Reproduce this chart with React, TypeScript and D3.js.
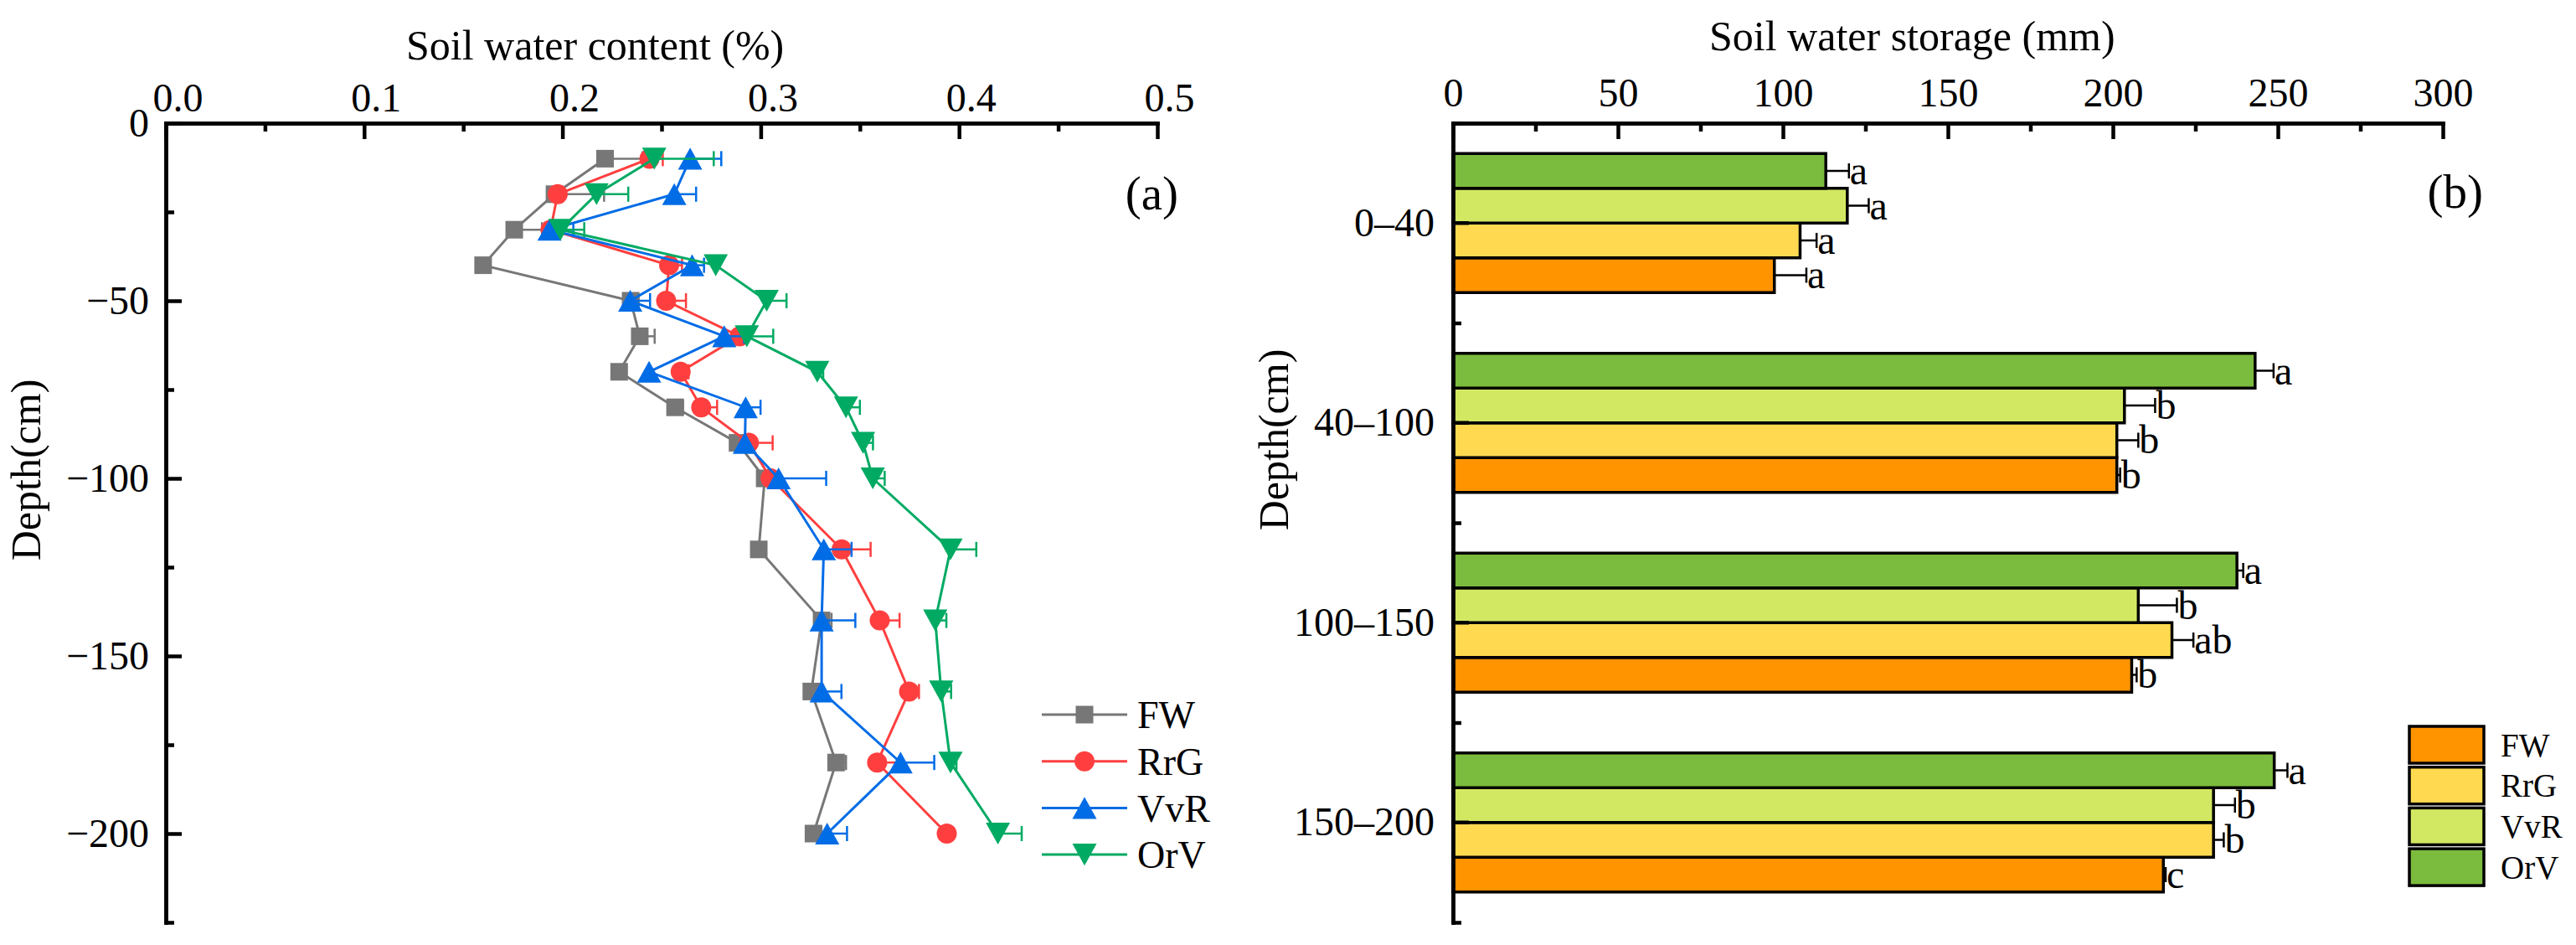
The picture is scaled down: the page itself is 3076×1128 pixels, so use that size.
import React, { useEffect, useRef } from 'react';
import * as d3 from 'd3';

// ---- panel (a): soil water content profile ----
const depths = [-10, -20, -30, -40, -50, -60, -70, -80, -90, -100, -120, -140, -160, -180, -200];
const seriesNames = ['FW', 'RrG', 'VvR', 'OrV'];

const fwSwc = [0.2215, 0.196, 0.1757, 0.16, 0.2344, 0.239, 0.2286, 0.2568, 0.2883, 0.302, 0.299, 0.3307, 0.3255, 0.338, 0.3266];
const fwSwcErr = [0.019, 0.025, 0.014, 0, 0.004, 0.0075, 0, 0.004, 0.002, 0.003, 0, 0.005, 0.006, 0.005, 0.004];
const rrgSwc = [0.2439, 0.1976, 0.194, 0.2538, 0.2523, 0.2893, 0.2596, 0.27, 0.294, 0.305, 0.3408, 0.36, 0.3748, 0.3587, 0.3938];
const rrgSwcErr = [0.0067, 0, 0.004, 0.0065, 0.01, 0.004, 0.004, 0.008, 0.012, 0.004, 0.0146, 0.01, 0.005, 0.012, 0];
const vvrSwc = [0.2644, 0.2564, 0.1935, 0.2654, 0.2342, 0.2816, 0.2437, 0.2924, 0.292, 0.309, 0.3318, 0.3307, 0.3307, 0.3705, 0.3335];
const vvrSwcErr = [0.0157, 0.011, 0.012, 0.006, 0.01, 0.01, 0, 0.0075, 0, 0.024, 0.014, 0.017, 0.01, 0.017, 0.01];
const orvSwc = [0.2463, 0.2172, 0.199, 0.2773, 0.303, 0.293, 0.3285, 0.343, 0.3516, 0.3565, 0.3957, 0.388, 0.391, 0.3957, 0.4196];
const orvSwcErr = [0.03, 0.016, 0.012, 0, 0.01, 0.0133, 0.003, 0.007, 0.005, 0.006, 0.013, 0.0056, 0.005, 0.003, 0.012];

const swcTicks = [0, 0.1, 0.2, 0.3, 0.4, 0.5];
const depthTicks = [0, -50, -100, -150, -200];

// ---- panel (b): soil water storage by layer ----
const layers = ['0–40', '40–100', '100–150', '150–200'];
const fwSws = [97.4, 201.2, 205.7, 215.3];
const fwSwsErr = [9.7, 1, 1.5, 0.7];
const rrgSws = [105.2, 201.2, 217.9, 230.5];
const rrgSwsErr = [5, 6.5, 6.5, 3.1];
const vvrSws = [119.5, 203.5, 207.7, 230.5];
const vvrSwsErr = [6.5, 9.3, 11.7, 6.5];
const orvSws = [113, 243.1, 237.6, 248.9];
const orvSwsErr = [7, 5.6, 1.9, 4];
const fwLetters = ['a', 'b', 'b', 'c'];
const rrgLetters = ['a', 'b', 'ab', 'b'];
const vvrLetters = ['a', 'b', 'b', 'b'];
const orvLetters = ['a', 'a', 'a', 'a'];
const swsTicks = [0, 50, 100, 150, 200, 250, 300];

const lineColors = ['#777777', '#ff3f3f', '#006ce6', '#00aa63'];
const barColors = ['#ff9300', '#ffda50', '#d3e862', '#7bbb3d'];

const FONT = "'Liberation Serif', 'Times New Roman', 'DejaVu Serif', serif";

const triUp = {
  draw(ctx: any, size: number) {
    const w = Math.sqrt(size);
    const h = w * 0.9;
    ctx.moveTo(0, -h / 2);
    ctx.lineTo(w / 2, h / 2);
    ctx.lineTo(-w / 2, h / 2);
    ctx.closePath();
  },
};
const triDown = {
  draw(ctx: any, size: number) {
    const w = Math.sqrt(size);
    const h = w * 0.9;
    ctx.moveTo(0, h / 2);
    ctx.lineTo(w / 2, -h / 2);
    ctx.lineTo(-w / 2, -h / 2);
    ctx.closePath();
  },
};

function styleAxis(g: any, fontSize: number) {
  g.attr('font-family', FONT).attr('font-size', fontSize);
  g.select('.domain').attr('stroke', '#000').attr('stroke-width', 4.5).attr('stroke-linecap', 'square');
  g.selectAll('.tick line').attr('stroke', '#000').attr('stroke-width', 4.5);
  g.selectAll('.tick text').attr('fill', '#000').attr('font-family', FONT).attr('font-size', fontSize);
}

export default function App() {
  const svgRef = useRef<SVGSVGElement>(null);

  useEffect(() => {
    if (!svgRef.current) return;
    const svg = d3.select(svgRef.current);
    svg.selectAll('*').remove();

    const top = 147;
    const bottom = 1101;

    // ================= panel (a) =================
    const xA = d3.scaleLinear().domain([0, 0.5]).range([198, 1382]);
    const yA = d3.scaleLinear().domain([0, -225]).range([top, bottom]);

    const gA = svg.append('g');

    gA.append('g')
      .attr('transform', `translate(0,${top})`)
      .call(d3.axisTop(xA).tickValues(d3.range(0.05, 0.5, 0.1)).tickSize(-10).tickSizeOuter(0).tickFormat(() => ''))
      .call((g: any) => styleAxis(g, 48));
    gA.append('g')
      .attr('transform', `translate(0,${top})`)
      .call(d3.axisTop(xA).tickValues(swcTicks).tickSize(-19).tickSizeOuter(0).tickPadding(14).tickFormat(d3.format('.1f')))
      .call((g: any) => styleAxis(g, 48))
      .call((g: any) => g.selectAll('.tick text').attr('dx', 14));

    gA.append('g')
      .attr('transform', `translate(198,0)`)
      .call(d3.axisLeft(yA).tickValues([-25, -75, -125, -175, -225]).tickSize(-10).tickSizeOuter(0).tickFormat(() => ''))
      .call((g: any) => styleAxis(g, 48));
    gA.append('g')
      .attr('transform', `translate(198,0)`)
      .call(d3.axisLeft(yA).tickValues(depthTicks).tickSize(-19).tickSizeOuter(0).tickPadding(20).tickFormat(d3.format('d')))
      .call((g: any) => styleAxis(g, 48));

    const swcValues = [fwSwc, rrgSwc, vvrSwc, orvSwc];
    const swcErrs = [fwSwcErr, rrgSwcErr, vvrSwcErr, orvSwcErr];
    const symbols: any[] = [
      d3.symbol().type(d3.symbolSquare).size(441),
      d3.symbol().type(d3.symbolCircle).size(452),
      d3.symbol().type(triUp as any).size(841),
      d3.symbol().type(triDown as any).size(841),
    ];

    const line = d3.line<number>()
      .x((v) => xA(v))
      .y((_, i) => yA(depths[i]));

    seriesNames.forEach((name, s) => {
      const color = lineColors[s];
      const vals = swcValues[s];
      const errs = swcErrs[s];
      const gs = gA.append('g');
      gs.append('path').attr('d', line(vals)).attr('fill', 'none').attr('stroke', color).attr('stroke-width', 3);

      vals.forEach((v, i) => {
        const e = errs[i];
        if (!e) return;
        const y = yA(depths[i]);
        gs.append('line').attr('x1', xA(v)).attr('x2', xA(v + e)).attr('y1', y).attr('y2', y)
          .attr('stroke', color).attr('stroke-width', 2.5);
        gs.append('line').attr('x1', xA(v + e)).attr('x2', xA(v + e)).attr('y1', y - 9).attr('y2', y + 9)
          .attr('stroke', color).attr('stroke-width', 2.5);
      });

      gs.selectAll('.pt').data(vals).enter().append('path')
        .attr('transform', (v, i) => `translate(${xA(v)},${yA(depths[i])})`)
        .attr('d', symbols[s]())
        .attr('fill', color);
    });

    // legend (a)
    const legA = gA.append('g');
    seriesNames.forEach((name, s) => {
      const y = 853 + s * 55.7;
      legA.append('line').attr('x1', 1244).attr('x2', 1346).attr('y1', y).attr('y2', y)
        .attr('stroke', lineColors[s]).attr('stroke-width', 3);
      legA.append('path').attr('transform', `translate(1295,${y})`).attr('d', symbols[s]()).attr('fill', lineColors[s]);
      legA.append('text').attr('x', 1358).attr('y', y).attr('dy', '0.35em')
        .attr('font-family', FONT).attr('font-size', 46).text(name);
    });

    gA.append('text').attr('x', 485).attr('y', 71)
      .attr('font-family', FONT).attr('font-size', 50).text('Soil water content (%)');
    gA.append('text').attr('transform', 'translate(48,561) rotate(-90)').attr('text-anchor', 'middle')
      .attr('font-family', FONT).attr('font-size', 50).text('Depth(cm)');
    gA.append('text').attr('x', 1407).attr('y', 250).attr('text-anchor', 'end')
      .attr('font-family', FONT).attr('font-size', 57).text('(a)');

    // ================= panel (b) =================
    const xB = d3.scaleLinear().domain([0, 300]).range([1735, 2917]);
    const yB = d3.scaleBand().domain(layers).range([top, bottom]).paddingInner(0.304).paddingOuter(0.152);
    const barOrder = ['OrV', 'VvR', 'RrG', 'FW'];
    const yInner = d3.scaleBand().domain(barOrder).range([0, yB.bandwidth()]);
    const yEdges = d3.scaleLinear().domain([0, layers.length]).range([top, bottom]);

    const gB = svg.append('g');

    const swsValues = [fwSws, rrgSws, vvrSws, orvSws];
    const swsErrs = [fwSwsErr, rrgSwsErr, vvrSwsErr, orvSwsErr];
    const swsLetters = [fwLetters, rrgLetters, vvrLetters, orvLetters];

    seriesNames.forEach((name, s) => {
      const gs = gB.append('g');
      layers.forEach((layer, i) => {
        const v = swsValues[s][i];
        const e = swsErrs[s][i];
        const y0 = (yB(layer) as number) + (yInner(name) as number);
        const yc = y0 + yInner.bandwidth() / 2;
        gs.append('rect').attr('x', xB(0)).attr('y', y0)
          .attr('width', xB(v) - xB(0)).attr('height', yInner.bandwidth())
          .attr('fill', barColors[s]).attr('stroke', '#000').attr('stroke-width', 3.5);
        gs.append('line').attr('x1', xB(v)).attr('x2', xB(v + e)).attr('y1', yc).attr('y2', yc)
          .attr('stroke', '#000').attr('stroke-width', 2.5);
        gs.append('line').attr('x1', xB(v + e)).attr('x2', xB(v + e)).attr('y1', yc - 9).attr('y2', yc + 9)
          .attr('stroke', '#000').attr('stroke-width', 2.5);
        gs.append('text').attr('x', xB(v + e) + 1).attr('y', yc + 16)
          .attr('font-family', FONT).attr('font-size', 48).text(swsLetters[s][i]);
      });
    });

    gB.append('g')
      .attr('transform', `translate(0,${top})`)
      .call(d3.axisTop(xB).tickValues(d3.range(25, 300, 50)).tickSize(-10).tickSizeOuter(0).tickFormat(() => ''))
      .call((g: any) => styleAxis(g, 48));
    gB.append('g')
      .attr('transform', `translate(0,${top})`)
      .call(d3.axisTop(xB).tickValues(swsTicks).tickSize(-19).tickSizeOuter(0).tickPadding(20).tickFormat(d3.format('d')))
      .call((g: any) => styleAxis(g, 48));
    gB.append('g')
      .attr('transform', `translate(1735,0)`)
      .call(d3.axisLeft(yEdges).tickValues(d3.range(0, layers.length + 1)).tickSize(-10).tickSizeOuter(0).tickFormat(() => ''))
      .call((g: any) => styleAxis(g, 48));
    gB.append('g')
      .attr('transform', `translate(1735,0)`)
      .call(d3.axisLeft(yB).tickSize(-19).tickSizeOuter(0).tickPadding(22))
      .call((g: any) => styleAxis(g, 48));

    // legend (b)
    const legB = gB.append('g');
    seriesNames.forEach((name, s) => {
      const y = 867 + s * 48.7;
      legB.append('rect').attr('x', 2877).attr('y', y).attr('width', 89).attr('height', 44)
        .attr('fill', barColors[s]).attr('stroke', '#000').attr('stroke-width', 3.5);
      legB.append('text').attr('x', 2986).attr('y', y + 22).attr('dy', '0.35em')
        .attr('font-family', FONT).attr('font-size', 39).text(name);
    });

    gB.append('text').attr('x', 2041).attr('y', 60)
      .attr('font-family', FONT).attr('font-size', 50).text('Soil water storage (mm)');
    gB.append('text').attr('transform', 'translate(1538,525) rotate(-90)').attr('text-anchor', 'middle')
      .attr('font-family', FONT).attr('font-size', 50).text('Depth(cm)');
    gB.append('text').attr('x', 2965).attr('y', 248).attr('text-anchor', 'end')
      .attr('font-family', FONT).attr('font-size', 57).text('(b)');
  }, []);

  return (
    <div style={{ position: 'absolute', left: 0, top: 0, background: '#fff' }}>
      <svg ref={svgRef} width={3076} height={1128} viewBox="0 0 3076 1128" style={{ display: 'block', fontFamily: FONT }} />
    </div>
  );
}
